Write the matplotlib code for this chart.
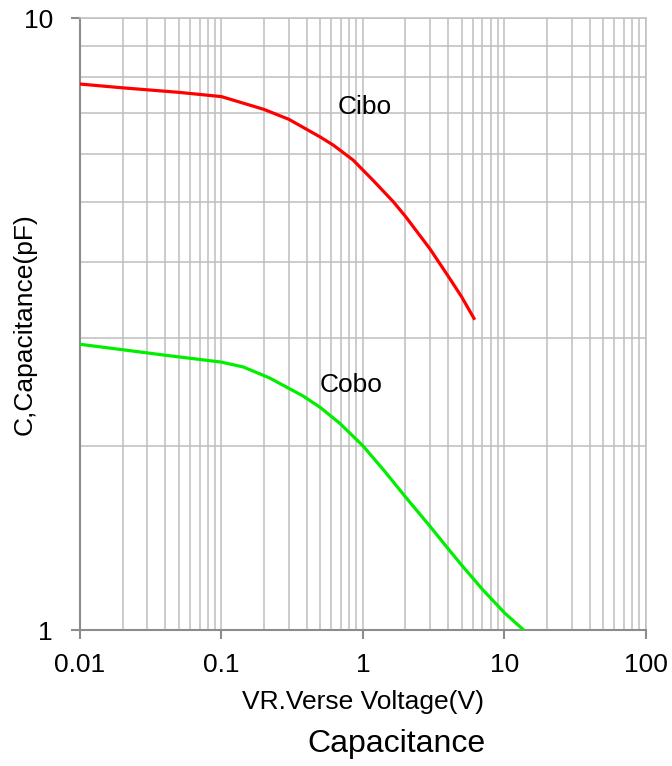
import matplotlib
matplotlib.use("Agg")
import matplotlib.pyplot as plt
from matplotlib.ticker import LogLocator, FixedLocator, FixedFormatter, NullFormatter

plt.rcParams['font.family'] = ['Liberation Sans', 'DejaVu Sans']

# Cibo curve (reverse voltage V, capacitance pF)
vr_cibo = [0.01, 0.02, 0.05, 0.1, 0.2, 0.3, 0.5, 0.617, 0.853, 1.18, 1.64, 2.0,
           2.97, 4.12, 5.0, 6.1]
c_cibo = [7.8, 7.69, 7.56, 7.44, 7.09, 6.83, 6.39, 6.2, 5.86, 5.43, 5.01, 4.74,
          4.2, 3.75, 3.5, 3.23]

# Cobo curve
vr_cobo = [0.01, 0.0202, 0.041, 0.1, 0.143, 0.22, 0.38, 0.5, 0.686, 1.0, 1.39, 2.0,
           3.0, 3.9, 5.1, 7.08, 10.1, 13.7]
c_cobo = [2.93, 2.87, 2.81, 2.74, 2.69, 2.58, 2.41, 2.31, 2.177, 2.0, 1.83, 1.65,
          1.475, 1.368, 1.269, 1.162, 1.065, 1.0]

x_ticks = [0.01, 0.1, 1, 10, 100]
x_labels = ['0.01', '0.1', '1', '10', '100']
y_ticks = [1, 10]
y_labels = ['1', '10']

grid_col = '#BFBFBF'
axis_col = '#8C8C8C'

fig = plt.figure(figsize=(6.72, 7.66), dpi=100)
ax = fig.add_axes([0.119, 0.1775, 0.842, 0.799])

ax.set_xscale('log')
ax.set_yscale('log')
ax.set_xlim(0.01, 100)
ax.set_ylim(1, 10)

ax.plot(vr_cibo, c_cibo, color='#FF0000', lw=2.3, zorder=3, solid_joinstyle='round')
ax.plot(vr_cobo, c_cobo, color='#00EE00', lw=2.3, zorder=3, solid_joinstyle='round')

ax.text(1.03, 7.16, 'Cibo', fontsize=19, ha='center', va='center')
ax.text(0.82, 2.51, 'Cobo', fontsize=19, ha='center', va='center')

ax.xaxis.set_major_locator(FixedLocator(x_ticks))
ax.xaxis.set_major_formatter(FixedFormatter(x_labels))
ax.xaxis.set_minor_locator(LogLocator(base=10, subs=range(2, 10), numticks=20))
ax.xaxis.set_minor_formatter(NullFormatter())
ax.yaxis.set_major_locator(FixedLocator(y_ticks))
ax.yaxis.set_major_formatter(FixedFormatter(y_labels))
ax.yaxis.set_minor_locator(LogLocator(base=10, subs=range(2, 10), numticks=20))
ax.yaxis.set_minor_formatter(NullFormatter())

ax.grid(True, which='both', color=grid_col, lw=1.1, zorder=0)
ax.set_axisbelow(True)

for s in ['top', 'right']:
    ax.spines[s].set_color(grid_col)
    ax.spines[s].set_linewidth(1.1)
for s in ['left', 'bottom']:
    ax.spines[s].set_color(axis_col)
    ax.spines[s].set_linewidth(1.5)

ax.tick_params(which='major', direction='out', length=6.5, width=1.5,
               color=axis_col, labelsize=19)
ax.tick_params(axis='x', which='major', pad=10)
ax.tick_params(axis='y', which='major', pad=13)
ax.tick_params(which='minor', length=0)

ax.set_xlabel('VR.Verse Voltage(V)', fontsize=19, va='center')
ax.xaxis.set_label_coords(0.5, -0.1176)
ax.set_ylabel('C,Capacitance(pF)', fontsize=19, va='center')
ax.yaxis.set_label_coords(-0.097, 0.5)

fig.text(396 / 672, 1 - 744 / 766, 'Capacitance', fontsize=23, ha='center', va='center')

fig.savefig('out.png', dpi=100)
